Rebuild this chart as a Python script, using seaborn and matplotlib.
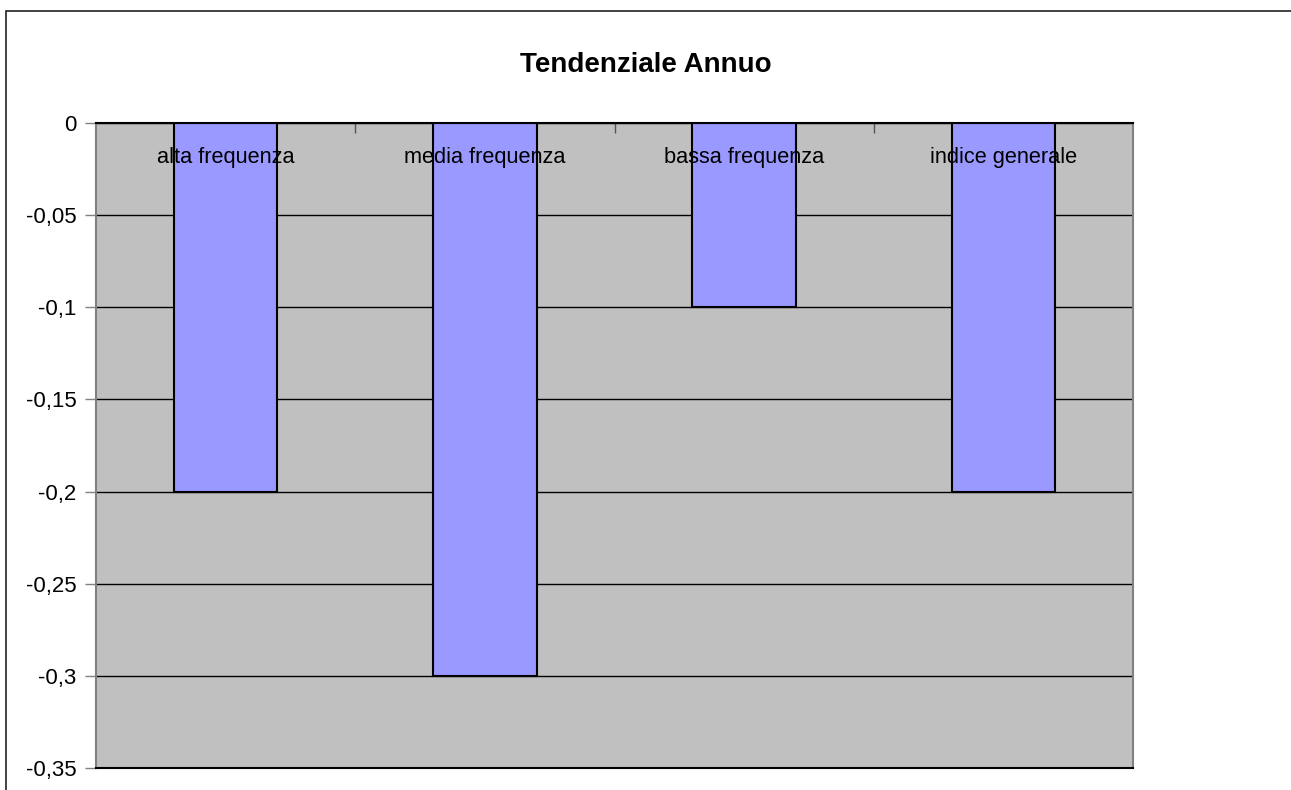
import matplotlib
matplotlib.use("Agg")
import matplotlib.pyplot as plt
import matplotlib.patches as mpatches
from matplotlib.ticker import FuncFormatter, MultipleLocator
import pandas as pd
import seaborn as sns

categories = ["alta frequenza", "media frequenza", "bassa frequenza", "indice generale"]
values = [-0.2, -0.3, -0.1, -0.2]
title = "Tendenziale Annuo"

df = pd.DataFrame({"cat": categories, "val": values})

sns.set_theme(style="white")
plt.rcParams["font.family"] = ["Liberation Sans", "DejaVu Sans"]

fig = plt.figure(figsize=(12.91, 7.90), dpi=100)
ax = fig.add_axes([96 / 1291, 1 - 768 / 790, (1133 - 96) / 1291, (768 - 123) / 790])
ax.set_facecolor("#C0C0C0")

# fill first, labels over the fill, then the black outlines over the labels
sns.barplot(data=df, x="cat", y="val", color="#9999FF", saturation=1, width=0.4,
            linewidth=0, ax=ax, zorder=2)
sns.barplot(data=df, x="cat", y="val", color="black", fill=False, width=0.4,
            linewidth=1.5, ax=ax, zorder=4)

ax.set_ylim(-0.35, 0)
ax.set_xlim(-0.5, len(categories) - 0.5)
ax.yaxis.set_major_locator(MultipleLocator(0.05))
ax.yaxis.set_major_formatter(FuncFormatter(lambda v, p: "0" if abs(v) < 1e-9 else f"{v:g}".replace(".", ",")))
ax.grid(axis="y", color="black", linewidth=1)
ax.set_axisbelow(True)
ax.tick_params(axis="y", left=True, length=8, width=1, color="#808080", labelsize=16, pad=6, labelcolor="black")

# category axis sits at y=0 (top), ticks on category boundaries
ax.xaxis.set_ticks_position("top")
ax.set_xticks([i + 0.5 for i in range(len(categories) - 1)])
ax.set_xticklabels([])
ax.tick_params(axis="x", top=True, length=7, width=1, color="#555555", direction="in")
ax.set_xlabel("")
ax.set_ylabel("")

for i, c in enumerate(categories):
    ax.text(i, -0.0185, c, ha="center", va="center", fontsize=15.7, color="black", zorder=3)

for s in ["top", "bottom"]:
    ax.spines[s].set_color("black")
    ax.spines[s].set_linewidth(1.5)
for s in ["left", "right"]:
    ax.spines[s].set_color("#808080")
    ax.spines[s].set_linewidth(1.5)

fig.text(646 / 1291, 1 - 65 / 790, title, ha="center", va="center", fontsize=20,
         fontweight="bold", color="black")

# chart frame
fig.patches.append(mpatches.Rectangle((6 / 1291, -0.5), 2, 1.5 - 11 / 790, transform=fig.transFigure,
                                      fill=False, edgecolor="#222222", linewidth=1.2))

fig.savefig("out.png", dpi=100)
